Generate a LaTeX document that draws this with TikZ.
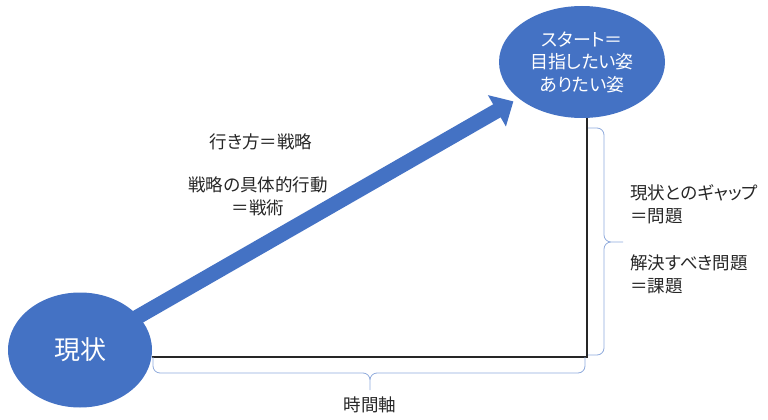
\documentclass[tikz,border=0pt]{standalone}
\usepackage{fontspec}
\setmainfont{Noto Sans CJK JP}[RawFeature=+palt]
\usepackage{tikz}
\usetikzlibrary{shapes.geometric,arrows.meta}
\usepackage{xcolor}
\definecolor{accentblue}{HTML}{4472C4}
\definecolor{bracecolor}{HTML}{8FAADC}
\tikzset{
    bubble/.style={fill=accentblue,ellipse,inner sep=0,text=white,align=center,
        font=\fontsize{18}{22.5}\selectfont},
    txt/.style={inner sep=0,text=black!85,font=\fontsize{17.5}{23}\selectfont},
    axisline/.style={line width=2pt,draw=black!85},
    curly/.style={draw=bracecolor,line width=0.8pt,rounded corners=7pt},
    bigarrow/.style={draw=accentblue,line width=15pt,
        -{Triangle[length=19pt,width=35pt]},shorten <=-12pt,shorten >=6pt},
}

\begin{document}
\begin{tikzpicture}[x=1pt,y=-1pt]
    \useasboundingbox (0,0) rectangle (768,420);
    \node[bubble,minimum width=166,minimum height=112] (goal) at (582,62)
        {スタート＝\\目指したい姿\\ありたい姿};
    \node[bubble,minimum width=144,minimum height=115,
        font=\fontsize{26}{28}\selectfont] (now) at (80,350) {現状};
    \draw[bigarrow] (now) -- (goal);
    \coordinate (corner) at (587,357);
    \draw[axisline] (now.east |- corner) -- (corner) -- (corner |- goal.south);
    % braces
    \draw[curly] (153,357) |- (370,373) -- (370,390)
        (370,390) -- (370,373) -| (585,357);
    \draw[curly] (588,128) -| (604,242) -- (623,242)
        (623,242) -- (604,242) |- (588,355);
    \node[txt] (howto) at (261,142) {行き方＝戦略};
    \node[txt,align=center] (tactics) at (258,196) {戦略の具体的行動\\＝戦術};
    \node[txt] (timeaxis) at (370,405) {時間軸};
    \node[txt,anchor=west,align=left] (gap) at (630,204) {現状とのギャップ\\＝問題};
    \node[txt,anchor=west,align=left] (issue) at (630,274) {解決すべき問題\\＝課題};
\end{tikzpicture}
\end{document}
